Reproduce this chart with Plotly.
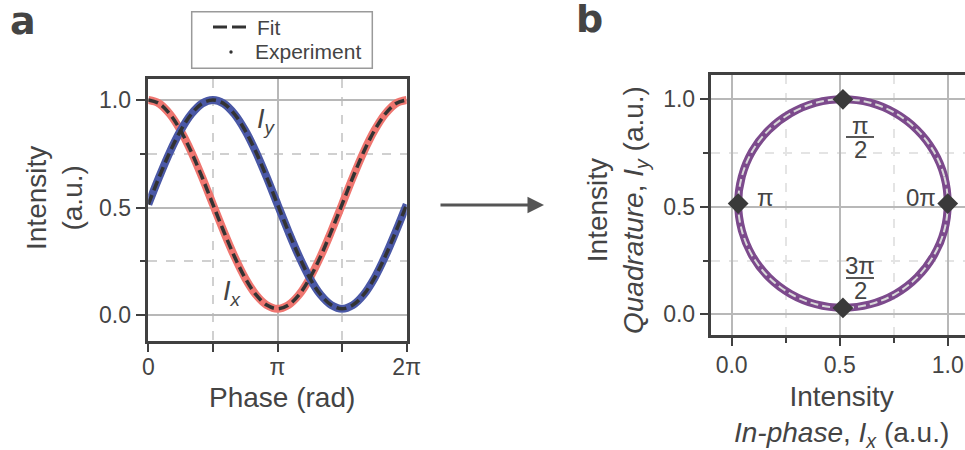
import numpy as np
import plotly.graph_objects as go

# ---- data ---------------------------------------------------------------
phase_deg = [0, 15, 30, 45, 60, 75, 90, 105, 120, 135, 150, 165, 180,
             195, 210, 225, 240, 255, 270, 285, 300, 315, 330, 345, 360]
# in-phase intensity I_x (a.u.)
ix = [1.000, 0.984, 0.935, 0.858, 0.758, 0.641, 0.515, 0.390, 0.273, 0.172,
      0.095, 0.047, 0.030, 0.047, 0.095, 0.172, 0.273, 0.390, 0.515, 0.641,
      0.758, 0.858, 0.935, 0.984, 1.000]
# quadrature intensity I_y (a.u.)
iy = [0.515, 0.641, 0.758, 0.858, 0.935, 0.984, 1.000, 0.984, 0.935, 0.858,
      0.758, 0.641, 0.515, 0.390, 0.273, 0.172, 0.095, 0.047, 0.030, 0.047,
      0.095, 0.172, 0.273, 0.390, 0.515]
# marked phases on the IQ circle (index into the lists above)
marked_idx = [0, 6, 12, 18]
phase_ticks = [0, np.pi, 2 * np.pi]
phase_ticklabels = ["0", "π", "2π"]
intensity_ticks = [0.0, 0.5, 1.0]
intensity_ticklabels = ["0.0", "0.5", "1.0"]

phase = np.deg2rad(phase_deg)

# ---- style --------------------------------------------------------------
W, H = 965, 450
FONT = "Liberation Sans, Arial, sans-serif"
INK = "#404040"
TXT = "#444444"
RED = "#ef7670"
BLUE = "#4a58a6"
PURPLE = "#7c4a8c"
FIT = "#333333"


def px(x):
    return x / W


def py(y):
    return 1 - y / H


fig = go.Figure()

# panel a: experiment (thick) and fit (dashed)
fig.add_trace(go.Scatter(x=phase, y=ix, mode="lines", line=dict(color=RED, width=8, shape="spline"),
                         showlegend=False, xaxis="x", yaxis="y"))
fig.add_trace(go.Scatter(x=phase, y=iy, mode="lines", line=dict(color=BLUE, width=8, shape="spline"),
                         showlegend=False, xaxis="x", yaxis="y"))
for series in (ix, iy):
    fig.add_trace(go.Scatter(x=phase, y=series, mode="lines",
                             line=dict(color=FIT, width=3.5, dash="10px,5px", shape="spline"),
                             showlegend=False, xaxis="x", yaxis="y"))

# panel b: IQ circle
fig.add_trace(go.Scatter(x=ix, y=iy, mode="lines", line=dict(color=PURPLE, width=8, shape="spline"),
                         showlegend=False, xaxis="x2", yaxis="y2"))
fig.add_trace(go.Scatter(x=ix, y=iy, mode="lines",
                         line=dict(color="#d9d9d9", width=2, dash="8px,4px", shape="spline"),
                         showlegend=False, xaxis="x2", yaxis="y2"))
fig.add_trace(go.Scatter(x=[ix[i] for i in marked_idx], y=[iy[i] for i in marked_idx],
                         mode="markers", marker=dict(symbol="diamond", size=16, color="#3a3a3a"),
                         showlegend=False, xaxis="x2", yaxis="y2", cliponaxis=False))


def axis_style(**kw):
    base = dict(
        showline=True, linecolor=INK, linewidth=2.5, ticks="outside", tickcolor=INK,
        tickwidth=2, ticklen=8, showgrid=True, gridcolor="#b8b8b8", gridwidth=1.5,
        zeroline=False, automargin=False, tickfont=dict(family=FONT, size=23, color=TXT),
    )
    base.update(kw)
    return base


layout = dict(
    template="none",
    width=W, height=H, margin=dict(l=0, r=0, t=0, b=0, autoexpand=False),
    paper_bgcolor="white", plot_bgcolor="white", showlegend=False,
    font=dict(family=FONT, color=TXT),
    xaxis=axis_style(domain=[px(148.3), px(406.7)], range=[0, 2 * np.pi], mirror=True,
                     anchor="y", tickmode="array", tickvals=phase_ticks,
                     ticktext=phase_ticklabels, ticklabelstandoff=-4,
                     minor=dict(tickvals=[np.pi / 2, 3 * np.pi / 2], ticklen=8, tickwidth=2,
                                tickcolor=INK, showgrid=True, gridcolor="#d0d0d0",
                                griddash="dash", gridwidth=1.5)),
    yaxis=axis_style(domain=[py(341), py(78.5)], range=[-0.12, 1.1], mirror=True,
                     anchor="x", tickmode="array", tickvals=intensity_ticks,
                     ticktext=intensity_ticklabels, ticklen=10,
                     minor=dict(tickvals=[0.25, 0.75], ticklen=6, tickwidth=2, tickcolor=INK,
                                showgrid=True, gridcolor="#d0d0d0", griddash="dash",
                                gridwidth=1.5)),
    xaxis2=axis_style(domain=[px(710.5), 1.0], range=[-0.098, 1.08], mirror=True,
                      anchor="y2", tickmode="array", tickvals=intensity_ticks,
                      ticktext=intensity_ticklabels,
                      minor=dict(tickvals=[0.25, 0.75], ticklen=5, tickwidth=2, tickcolor=INK,
                                 showgrid=True, gridcolor="#e4e4e4", griddash="dash",
                                 gridwidth=1.5)),
    yaxis2=axis_style(domain=[py(335), py(75)], range=[-0.096, 1.113], mirror=False,
                      anchor="x2", tickmode="array", tickvals=intensity_ticks,
                      ticktext=intensity_ticklabels,
                      minor=dict(tickvals=[0.25, 0.75], ticklen=5, tickwidth=2, tickcolor=INK,
                                 showgrid=True, gridcolor="#e4e4e4", griddash="dash",
                                 gridwidth=1.5)),
)
fig.update_layout(**layout)


def note(text, x, y, size=22, angle=0, xanchor="center", family=FONT, **kw):
    fig.add_annotation(text=text, x=px(x), y=py(y), xref="paper", yref="paper",
                       showarrow=False, textangle=angle, xanchor=xanchor, yanchor="middle",
                       font=dict(family=family, size=size, color=TXT), **kw)


# panel letters
note("<b>a</b>", 23, 21, size=38, family="DejaVu Sans, sans-serif")
note("<b>b</b>", 589, 19, size=38, family="DejaVu Sans, sans-serif")

# legend
fig.add_shape(type="rect", xref="paper", yref="paper", x0=px(191.7), x1=px(372.3),
              y0=py(68.3), y1=py(11.7), line=dict(color="#9a9a9a", width=1.5),
              fillcolor="white", layer="above")
fig.add_shape(type="line", xref="paper", yref="paper", x0=px(213), x1=px(246),
              y0=py(27), y1=py(27), line=dict(color=FIT, width=3, dash="14px,5px"))
fig.add_shape(type="circle", xref="paper", yref="paper", x0=px(229.3), x1=px(232.7),
              y0=py(53.7), y1=py(50.3), line=dict(color=FIT, width=0), fillcolor=FIT)
note("Fit", 255, 27, size=21, xanchor="left")
note("Experiment", 253, 52, size=21, xanchor="left")

# axis titles
note("Phase (rad)", 282, 397, size=28)
note("Intensity<br>(a.u.)", 55, 198, size=28, angle=-90)
note("Intensity<br><i>In-phase</i>, <i>I</i><sub><i>x</i></sub> (a.u.)", 841, 416, size=28)
note("Intensity<br><i>Quadrature</i>, <i>I</i><sub><i>y</i></sub> (a.u.)", 617, 210, size=28,
     angle=-90)

# curve labels
note("<i>I</i><sub><i>y</i></sub>", 266, 121, size=27)
note("<i>I</i><sub><i>x</i></sub>", 232, 293, size=27)

# phase labels on the IQ circle
note("0π", 921, 197, size=24)
note("π", 765, 197, size=24)
note("π", 860, 125, size=24)
note("2", 860, 150, size=24)
note("3π", 860, 265, size=24)
note("2", 860, 290, size=24)
for ybar in (137, 278):
    fig.add_shape(type="line", xref="paper", yref="paper", x0=px(846), x1=px(874),
                  y0=py(ybar), y1=py(ybar), line=dict(color=TXT, width=1.8))

# arrow between panels
fig.add_annotation(x=px(544), y=py(205), ax=-105, ay=0, xref="paper", yref="paper",
                   axref="pixel", ayref="pixel", showarrow=True, arrowhead=2,
                   arrowsize=1.1, arrowwidth=3, arrowcolor="#555555", text="")

fig.write_html("out.html")
